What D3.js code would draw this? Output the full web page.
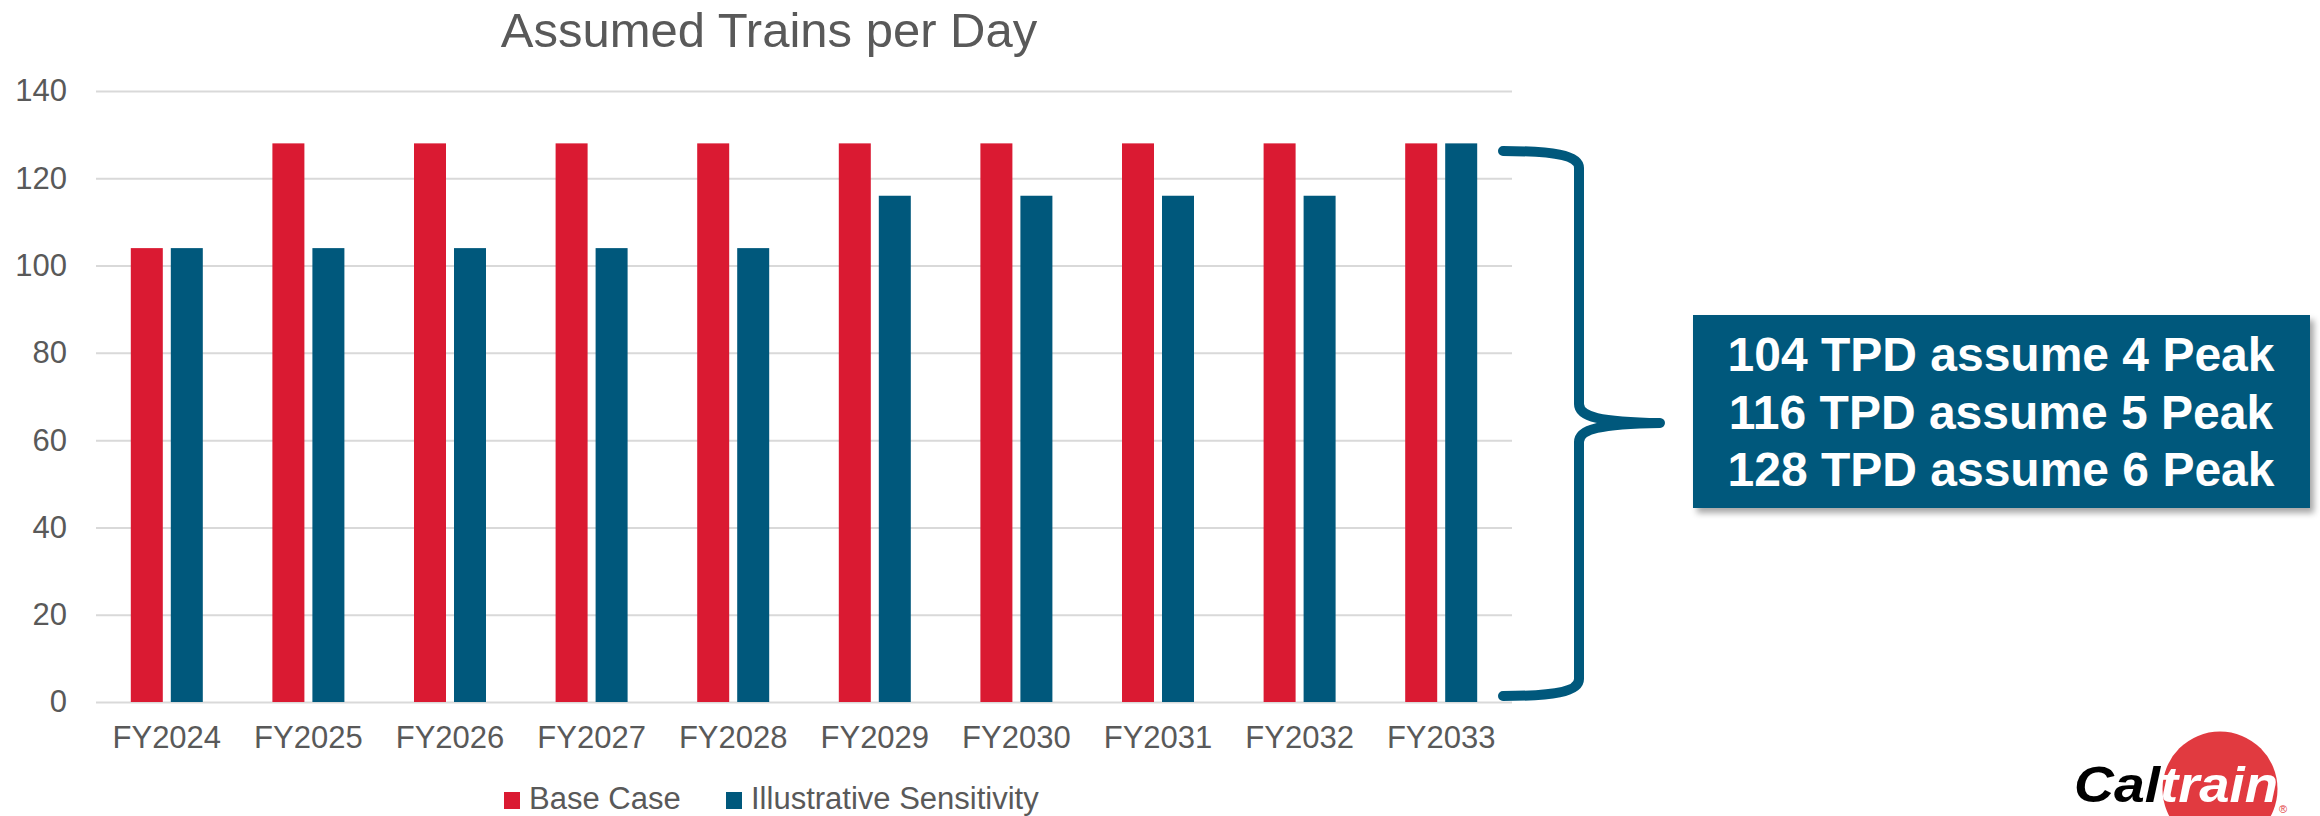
<!DOCTYPE html>
<html>
<head>
<meta charset="utf-8">
<script src="https://cdn.jsdelivr.net/npm/d3@7"></script>
<style>
  html, body { margin: 0; padding: 0; background: #ffffff; }
  svg { display: block; }
</style>
</head>
<body>
<div id="chart"></div>
<script>
// ---- Data ----
const categories = ["FY2024","FY2025","FY2026","FY2027","FY2028","FY2029","FY2030","FY2031","FY2032","FY2033"];
const seriesNames = ["Base Case","Illustrative Sensitivity"];
const baseCase = [104,128,128,128,128,128,128,128,128,128];
const sensitivity = [104,104,104,104,104,116,116,116,116,128];
const yTicks = [0,20,40,60,80,100,120,140];
const title = "Assumed Trains per Day";
const noteLines = ["104 TPD assume 4 Peak","116 TPD assume 5 Peak","128 TPD assume 6 Peak"];

// ---- Layout ----
const W = 2320, H = 816;
const plot = { left: 96, right: 1512, top: 91, bottom: 702 };
const colors = ["#da1a32", "#00587c"];
const textColor = "#595959";
const font = "'Liberation Sans', Arial, sans-serif";

const svg = d3.select("#chart").append("svg")
  .attr("width", W).attr("height", H)
  .style("font-family", font);

const defs = svg.append("defs");
const shadow = defs.append("filter").attr("id", "shadow")
  .attr("x", "-10%").attr("y", "-10%").attr("width", "130%").attr("height", "140%");
shadow.append("feDropShadow").attr("dx", 4).attr("dy", 5).attr("stdDeviation", 3)
  .attr("flood-color", "#000").attr("flood-opacity", 0.35);

const x = d3.scaleBand().domain(categories).range([plot.left, plot.right]).padding(0);
const xs = d3.scaleBand().domain(seriesNames).range([-36, 36]).paddingInner(0.2);
const y = d3.scaleLinear().domain([0, 140]).range([plot.bottom, plot.top]);

// Gridlines
const yAxis = d3.axisLeft(y).tickValues(yTicks).tickSize(-(plot.right - plot.left)).tickPadding(29);
const gy = svg.append("g").attr("transform", `translate(${plot.left},0)`).call(yAxis);
gy.select(".domain").remove();
gy.selectAll(".tick line").attr("stroke", "#d9d9d9").attr("stroke-width", 2);
gy.selectAll(".tick text").attr("fill", textColor).style("font-size", "31px").style("font-family", font);

// X axis labels
const xAxis = d3.axisBottom(x).tickSize(0).tickPadding(0);
const gx = svg.append("g").attr("transform", `translate(0,${plot.bottom})`).call(xAxis);
gx.select(".domain").remove();
gx.selectAll(".tick text").attr("fill", textColor).style("font-size", "31px").style("font-family", font)
  .attr("y", 46).attr("dy", 0);

// Bars
const rows = categories.map((c, i) => ({ cat: c, vals: [baseCase[i], sensitivity[i]] }));
const groups = svg.append("g").selectAll("g").data(rows).join("g")
  .attr("transform", d => `translate(${x(d.cat) + x.bandwidth() / 2},0)`);
groups.selectAll("rect").data(d => d.vals.map((v, k) => ({ v, k }))).join("rect")
  .attr("x", d => xs(seriesNames[d.k]))
  .attr("width", xs.bandwidth())
  .attr("y", d => y(d.v))
  .attr("height", d => y(0) - y(d.v))
  .attr("fill", d => colors[d.k]);

// Title
svg.append("text").attr("x", 769).attr("y", 47).attr("text-anchor", "middle")
  .attr("fill", textColor).style("font-size", "49px").text(title);

// Legend
const legendItems = [{ name: seriesNames[0], sx: 504, tx: 529 }, { name: seriesNames[1], sx: 726, tx: 751 }];
const lg = svg.append("g");
legendItems.forEach((it, k) => {
  lg.append("rect").attr("x", it.sx).attr("y", 792).attr("width", 16).attr("height", 17).attr("fill", colors[k]);
  lg.append("text").attr("x", it.tx).attr("y", 809).attr("fill", textColor).style("font-size", "31px").text(it.name);
});

// Brace
const braceColor = "#00587c";
svg.append("path")
  .attr("d", "M1503,151 C1552,151 1579,155 1579,168 L1579,404 C1579,417 1600,422 1660,423 C1600,424 1579,429 1579,442 L1579,679 C1579,692 1552,696 1503,696")
  .attr("fill", "none").attr("stroke", braceColor).attr("stroke-width", 10)
  .attr("stroke-linecap", "round").attr("stroke-linejoin", "round");

// Note box
svg.append("rect").attr("x", 1693).attr("y", 315).attr("width", 617).attr("height", 193)
  .attr("fill", braceColor).attr("filter", "url(#shadow)");
const note = svg.append("text").attr("text-anchor", "middle").attr("fill", "#ffffff")
  .style("font-size", "48px").style("font-weight", "bold");
noteLines.forEach((t, i) => {
  note.append("tspan").attr("x", 2001).attr("y", 371 + i * 57.5).text(t);
});

// Caltrain logo
const logo = svg.append("g");
logo.append("circle").attr("cx", 2220).attr("cy", 789).attr("r", 57.5).attr("fill", "#e13a40");
logo.append("text").attr("x", 2074).attr("y", 802).attr("textLength", 86).attr("lengthAdjust", "spacingAndGlyphs")
  .attr("fill", "#000").style("font-size", "50px").style("font-weight", "bold").style("font-style", "italic")
  .text("Cal");
logo.append("text").attr("x", 2160).attr("y", 802).attr("textLength", 118).attr("lengthAdjust", "spacingAndGlyphs")
  .attr("fill", "#fff").style("font-size", "50px").style("font-weight", "bold").style("font-style", "italic")
  .text("train");
logo.append("text").attr("x", 2279).attr("y", 813).attr("fill", "#e13a40").style("font-size", "11px").text("®");
</script>
</body>
</html>
